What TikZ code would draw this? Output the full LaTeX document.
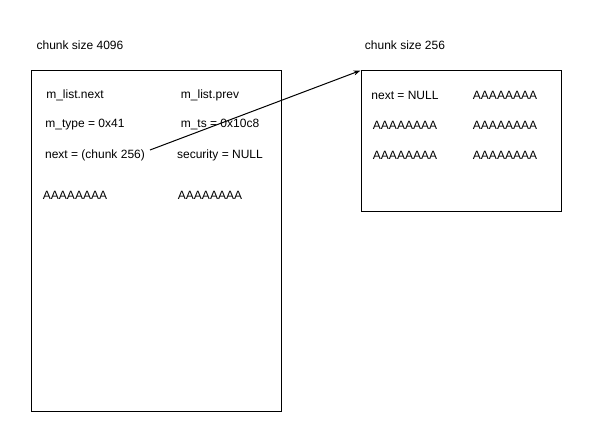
\documentclass[tikz,border=0pt]{standalone}
\usepackage{fontspec}
\setmainfont{Liberation Sans}
\usetikzlibrary{arrows.meta}
\begin{document}
\begin{tikzpicture}[x=1pt,y=-1pt,
  chunkbox/.style={draw=black,line width=1pt,fill=white},
  lbl/.style={inner sep=0pt,font=\fontsize{12}{14}\selectfont,anchor=center},
  ptrline/.style={draw=black,line width=1pt,-{Stealth[length=7pt,width=5pt]}}]
\useasboundingbox[fill=white] (0,0) rectangle (591,441);
% boxes
\node[chunkbox,minimum width=250pt,minimum height=340pt,inner sep=0pt,anchor=north west] (big) at (30.5,70.5) {};
\node[chunkbox,minimum width=200pt,minimum height=140pt,inner sep=0pt,anchor=north west] (small) at (360.5,70.5) {};
% titles
\node[lbl] (t1) at (80,45) {chunk size 4096};
\node[lbl] (t2) at (405,45) {chunk size 256};
% big chunk fields
\node[lbl] (a1) at (75,95) {m\_list.next};
\node[lbl] (a2) at (210,95) {m\_list.prev};
\node[lbl] (b1) at (85,125) {m\_type = 0x41};
\node[lbl] (b2) at (220,125) {m\_ts = 0x10c8};
\node[lbl] (c1) at (95,155) {next = (chunk 256)};
\node[lbl] (c2) at (220,155) {security = NULL};
\node[lbl] (d1) at (75,195) {AAAAAAAA};
\node[lbl] (d2) at (210,195) {AAAAAAAA};
% small chunk fields
\node[lbl] (e1) at (405,95) {next = NULL};
\node[lbl] (e2) at (505,95) {AAAAAAAA};
\node[lbl] (f1) at (405,125) {AAAAAAAA};
\node[lbl] (f2) at (505,125) {AAAAAAAA};
\node[lbl] (g1) at (405,155) {AAAAAAAA};
\node[lbl] (g2) at (505,155) {AAAAAAAA};
% pointer
\coordinate (ptr) at (150,150);
\draw[ptrline] (ptr) -- (small.north west);
\end{tikzpicture}
\end{document}
